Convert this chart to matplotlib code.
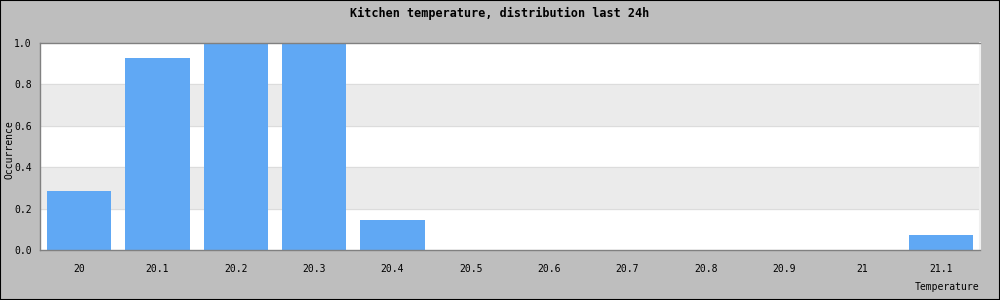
import matplotlib.pyplot as plt
from matplotlib.patches import Rectangle

temps = ['20', '20.1', '20.2', '20.3', '20.4', '20.5', '20.6', '20.7', '20.8', '20.9', '21', '21.1']
occurrence = [0.285, 0.928, 1.0, 1.0, 0.145, 0, 0, 0, 0, 0, 0, 0.072]
yticks = [0.0, 0.2, 0.4, 0.6, 0.8, 1.0]

plt.rcParams['font.family'] = 'DejaVu Sans Mono'
plt.rcParams['font.size'] = 7

fig = plt.figure(figsize=(10, 3), dpi=100, facecolor='#bebebe')
fig.patches.append(Rectangle((0, 0), 1, 1, transform=fig.transFigure, fill=False,
                             edgecolor='black', linewidth=1.5))
ax = fig.add_axes([0.04, 0.1667, 0.94, 0.69])
ax.set_facecolor('white')

# alternating bands
for i in range(len(yticks) - 1):
    if i % 2 == 1:
        ax.axhspan(yticks[i], yticks[i + 1], color='#ebebeb', zorder=0)
for y in yticks[1:-1]:
    ax.axhline(y, color='#dcdcdc', linewidth=0.8, zorder=0.5)

x = range(len(temps))
ax.bar(x, occurrence, width=0.82, color='#60a8f4', zorder=2)

ax.set_xlim(-0.5, len(temps) - 0.5)
ax.set_ylim(0, 1.0)
ax.set_yticks(yticks)
ax.set_yticklabels([f'{v:.1f}' for v in yticks])
ax.set_xticks(list(x))
ax.set_xticklabels(temps)
ax.tick_params(length=0, pad=10, colors='black')
ax.tick_params(axis='y', pad=6)

for side in ['left', 'bottom', 'top']:
    ax.spines[side].set_color('#808080')
    ax.spines[side].set_linewidth(1)
ax.spines['right'].set_color('#f0f0f0')
ax.spines['right'].set_linewidth(1.5)

fig.text(0.5, 0.955, 'Kitchen temperature, distribution last 24h', ha='center',
         va='center', fontweight='bold', fontsize=8.5)
fig.text(0.01, 0.5, 'Occurrence', rotation=90, ha='center', va='center')
fig.text(0.979, 0.045, 'Temperature', ha='right', va='center')

plt.savefig('out.png', dpi=100, facecolor=fig.get_facecolor())
